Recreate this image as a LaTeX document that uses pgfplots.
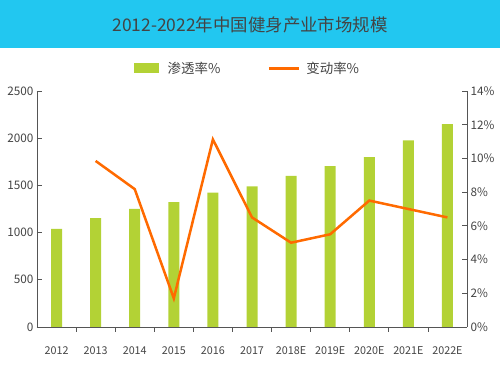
\documentclass[border=0pt]{standalone}
\usepackage{fontspec}
\setmainfont{Noto Sans CJK SC}
\usepackage{pgfplots}
\pgfplotsset{compat=1.18}
\definecolor{cyanbar}{HTML}{22C7F0}
\definecolor{bargreen}{HTML}{B3D235}
\definecolor{lineorange}{HTML}{FF6A00}
\definecolor{axgray}{HTML}{555555}
\definecolor{txtgray}{HTML}{444444}
\begin{document}
\begin{tikzpicture}
\path (0bp,0bp) rectangle (500bp,374bp);
\fill[cyanbar] (0bp,326bp) rectangle (500bp,374bp);
\node[text=txtgray, font=\fontsize{17.5}{20}\selectfont] at (250bp,349bp) {2012-2022年中国健身产业市场规模};
\begin{axis}[
  at={(37bp,47bp)}, anchor=south west, scale only axis,
  width=430bp, height=236bp,
  xmin=-0.5, xmax=10.5, ymin=0, ymax=2500,
  axis x line*=bottom, axis y line*=left,
  axis line style={-, draw=axgray, line width=0.8bp},
  ytick={0,500,...,2500},
  xtick={0,...,10},
  xticklabels={2012,2013,2014,2015,2016,2017,2018E,2019E,2020E,2021E,2022E},
  minor xtick={0.5,1.5,...,9.5},
  tick align=inside,
  major x tick style={draw=none},
  tick style={draw=axgray, line width=0.8bp},
  major tick length=5bp, minor tick length=5bp,
  xticklabel style={yshift=-11bp, font=\fontsize{10.8}{12}\selectfont, text=txtgray},
  yticklabel style={font=\fontsize{11.8}{13}\selectfont, text=txtgray},
  /pgf/number format/assume math mode=true,
  /pgf/number format/1000 sep={},
  ybar, bar width=11bp,
]
\addplot[fill=bargreen, draw=none] coordinates {
(0,1040) (1,1152) (2,1250) (3,1322) (4,1424) (5,1490) (6,1600) (7,1705) (8,1800) (9,1978) (10,2150)};
\end{axis}
\begin{axis}[
  at={(37bp,47bp)}, anchor=south west, scale only axis,
  width=430bp, height=236bp,
  xmin=-0.5, xmax=10.5, ymin=0, ymax=14,
  axis x line=none, axis y line*=right,
  axis line style={-, draw=axgray, line width=0.8bp},
  ytick={0,2,...,14},
  yticklabel={\pgfmathprintnumber{\tick}\%},
  tick align=inside,
  tick style={draw=axgray, line width=0.8bp},
  major tick length=5bp,
  yticklabel style={font=\fontsize{11.8}{13}\selectfont, text=txtgray},
  /pgf/number format/assume math mode=true,
  legend style={at={(0.49,1.097)}, anchor=center, draw=none, fill=none,
    legend columns=2, font=\fontsize{13.5}{15}\selectfont, text=txtgray,
    /tikz/every even column/.append style={column sep=45bp}},
  legend cell align=left,
]
\addlegendimage{legend image code/.code={\fill[bargreen] (0bp,-4.5bp) rectangle (24bp,4.5bp);}}
\addlegendentry{\hspace{7bp}渗透率\%}
\addlegendimage{legend image code/.code={\draw[lineorange, line width=3bp] (0bp,0bp) -- (30bp,0bp);}}
\addlegendentry{\hspace{4bp}变动率\%}
\addplot[lineorange, line width=2.5bp, mark=none] coordinates {
(1,9.85) (2,8.18) (3,1.7) (4,11.13) (5,6.5) (6,5.0) (7,5.5) (8,7.5) (9,7.0) (10,6.5)};
\end{axis}
\end{tikzpicture}
\end{document}
